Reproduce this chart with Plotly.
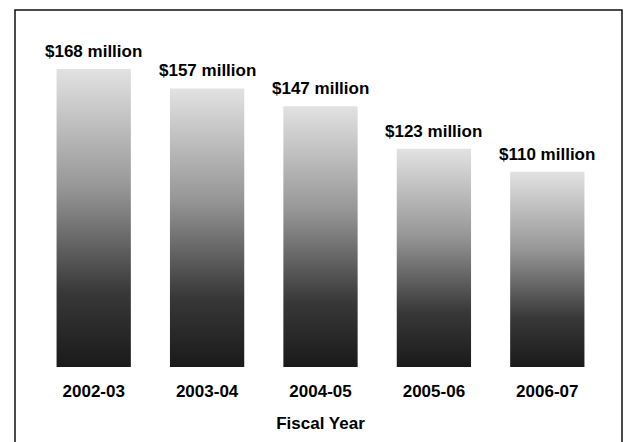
import plotly.graph_objects as go

# Funding by fiscal year (millions of dollars)
fiscal_years = ["2002-03", "2003-04", "2004-05", "2005-06", "2006-07"]
funding_millions = [168, 157, 147, 123, 110]
value_labels = ["$168 million", "$157 million", "$147 million", "$123 million", "$110 million"]

BAR_WIDTH = 0.655
FONT = "Liberation Sans, Arial, sans-serif"
GRADIENT = [[0.0, "#1a1a1a"], [0.25, "#383838"], [0.6, "#969696"], [1.0, "#e2e2e2"]]

fig = go.Figure()

# each bar is a filled rectangle with a vertical dark-to-light gradient
for i, v in enumerate(funding_millions):
    x0, x1 = i - BAR_WIDTH / 2, i + BAR_WIDTH / 2
    fig.add_trace(go.Scatter(
        x=[x0, x1, x1, x0, x0],
        y=[0, 0, v, v, 0],
        mode="lines",
        line=dict(width=0),
        fill="toself",
        fillgradient=dict(type="vertical", colorscale=GRADIENT, start=0, stop=v),
        hoverinfo="skip",
        showlegend=False,
    ))

# value labels above the bars
annotations = [
    dict(x=i, y=v, xref="x", yref="y", text=lbl, showarrow=False,
         xanchor="center", yanchor="bottom", yshift=6,
         font=dict(family=FONT, size=17, color="#000000", weight="bold"))
    for i, (v, lbl) in enumerate(zip(funding_millions, value_labels))
]

fig.update_layout(
    width=625,
    height=442,
    margin=dict(l=37, r=21, t=40, b=75),
    paper_bgcolor="white",
    plot_bgcolor="white",
    annotations=annotations,
    xaxis=dict(
        range=[-0.5, len(fiscal_years) - 0.5],
        tickmode="array",
        tickvals=list(range(len(fiscal_years))),
        ticktext=fiscal_years,
        tickfont=dict(family=FONT, size=17, color="#000000", weight="bold"),
        ticklabelstandoff=12,
        showgrid=False,
        zeroline=False,
        showline=False,
        ticks="",
        title=dict(text="Fiscal Year", font=dict(family=FONT, size=17, color="#000000", weight="bold"), standoff=17),
        fixedrange=True,
    ),
    yaxis=dict(
        range=[0, 184.3],
        visible=False,
        fixedrange=True,
    ),
    shapes=[
        # frame around the chart
        dict(type="rect", xref="paper", yref="paper",
             x0=(15 - 37) / 567, x1=(622 - 37) / 567,
             y0=-80 / 327, y1=(367 - 10) / 327,
             line=dict(color="#111111", width=1.5), fillcolor="rgba(0,0,0,0)", layer="below"),
    ],
)

fig.write_html("out.html")
